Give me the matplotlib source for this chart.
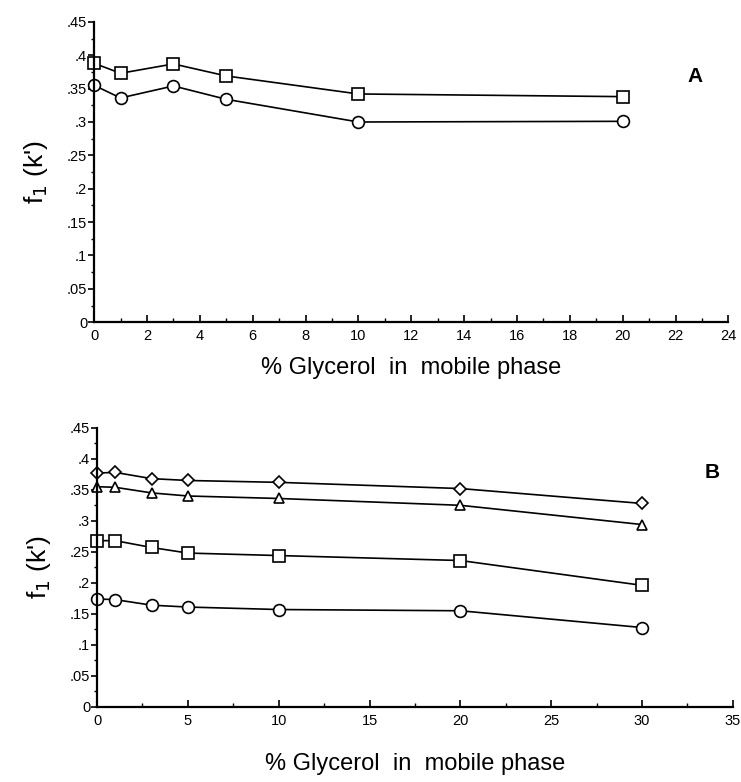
import numpy as np
import matplotlib
matplotlib.use("Agg")
import matplotlib.pyplot as plt
from matplotlib.ticker import MultipleLocator, FuncFormatter

# panel A data
xa = [0, 1, 3, 5, 10, 20]
a_square = [0.388, 0.373, 0.387, 0.369, 0.342, 0.338]
a_circle = [0.355, 0.336, 0.354, 0.334, 0.300, 0.301]

# panel B data
xb = [0, 1, 3, 5, 10, 20, 30]
b_diamond = [0.377, 0.378, 0.368, 0.365, 0.362, 0.352, 0.328]
b_triangle = [0.355, 0.354, 0.345, 0.340, 0.336, 0.325, 0.294]
b_square = [0.268, 0.268, 0.257, 0.248, 0.244, 0.236, 0.196]
b_circle = [0.174, 0.173, 0.164, 0.161, 0.157, 0.155, 0.128]

plt.rcParams['font.family'] = ['Liberation Sans', 'DejaVu Sans']

def ylab(v, pos):
    if abs(v) < 1e-9:
        return "0"
    s = ("%.2f" % v).rstrip('0')
    return s[1:] if s.startswith("0") else s

def style(ax, xmax, xmajor, xminor, xpad):
    ax.set_xlim(0, xmax)
    ax.set_ylim(0, 0.45)
    ax.spines['top'].set_visible(False)
    ax.spines['right'].set_visible(False)
    ax.spines['left'].set_linewidth(1.6)
    ax.spines['bottom'].set_linewidth(1.6)
    ax.xaxis.set_major_locator(MultipleLocator(xmajor))
    ax.xaxis.set_minor_locator(MultipleLocator(xminor))
    ax.yaxis.set_major_locator(MultipleLocator(0.05))
    ax.yaxis.set_minor_locator(MultipleLocator(0.025))
    ax.yaxis.set_major_formatter(FuncFormatter(ylab))
    ax.tick_params(axis='x', which='major', direction='in', length=5, width=1.2, labelsize=10.5, pad=5)
    ax.tick_params(axis='x', which='minor', direction='in', length=3, width=1)
    ax.tick_params(axis='y', which='major', direction='out', length=4, width=1.2, labelsize=10.5, pad=1)
    ax.tick_params(axis='y', which='minor', direction='out', length=2, width=1)
    ax.set_xlabel("% Glycerol  in  mobile phase", fontsize=17, labelpad=xpad)
    ax.set_ylabel("f$_1$ (k')", fontsize=19, labelpad=12)

mk = dict(color='black', markerfacecolor='white', markeredgecolor='black',
          linewidth=1.2, markeredgewidth=1.2, clip_on=False)

fig = plt.figure(figsize=(7.41, 7.82), dpi=100)

ax1 = fig.add_axes([0.127, 0.588, 0.856, 0.384])
ax1.plot(xa, a_square, marker='s', markersize=8, **mk)
ax1.plot(xa, a_circle, marker='o', markersize=8.5, **mk)
style(ax1, 24, 2, 1, 10)
ax1.text(0.935, 0.8, "A", transform=ax1.transAxes, fontsize=15, fontweight='bold')

ax2 = fig.add_axes([0.131, 0.096, 0.858, 0.357])
ax2.plot(xb, b_diamond, marker='D', markersize=6, **mk)
ax2.plot(xb, b_triangle, marker='^', markersize=7.5, **mk)
ax2.plot(xb, b_square, marker='s', markersize=8, **mk)
ax2.plot(xb, b_circle, marker='o', markersize=8.5, **mk)
style(ax2, 35, 5, 2.5, 18)
ax2.text(0.955, 0.82, "B", transform=ax2.transAxes, fontsize=15, fontweight='bold')

fig.savefig("out.png", dpi=100)
